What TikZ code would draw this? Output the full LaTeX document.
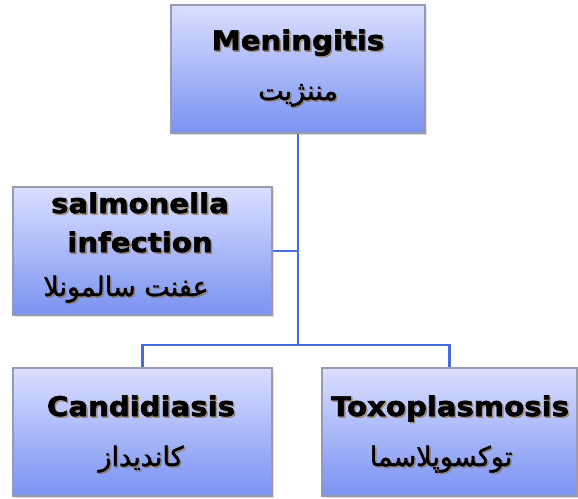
\documentclass[tikz,border=0pt]{standalone}
\usepackage{fontspec}
\usetikzlibrary{shadows,calc}
\TeXXeTstate=1
\newfontfamily\titlefont[FakeStretch=1.08,FakeBold=2.2]{DejaVu Sans Bold}
\newfontfamily\arabicfont[Script=Arabic,FakeBold=1.4]{DejaVu Sans}
\definecolor{boxtop}{RGB}{218,223,255}
\definecolor{boxbot}{RGB}{122,146,242}
\definecolor{boxline}{RGB}{150,155,175}
\definecolor{connc}{RGB}{70,108,222}
\definecolor{txtshadow}{RGB}{140,100,30}
\tikzset{
  box/.style={draw=boxline, line width=1.5pt, top color=boxtop, bottom color=boxbot,
    minimum height=128pt, inner sep=0pt,
    drop shadow={opacity=0.25, shadow xshift=1.5pt, shadow yshift=-1.5pt}},
  title/.style={font=\titlefont\fontsize{27}{32}\selectfont, anchor=base, inner sep=0pt},
  fa/.style={font=\arabicfont\fontsize{27}{32}\selectfont, anchor=base, inner sep=0pt},
  tsh/.style={text=txtshadow, text opacity=0.5, xshift=1.5pt, yshift=-1.5pt},
  conn/.style={draw=connc, line width=2.6pt}
}
\newcommand{\shtext}[4]{%
  \node[#1, tsh] (#2-sh) at #3 {#4};
  \node[#1] (#2) at #3 {#4};}
\begin{document}
\begin{tikzpicture}[x=1pt,y=-1pt]
\useasboundingbox[fill=white] (0,0) rectangle (578,498);
\node[box, minimum width=254pt] (m) at (298,69) {};
\node[box, minimum width=259pt] (s) at (142.5,251) {};
\node[box, minimum width=259pt] (c) at (142.5,432) {};
\node[box, minimum width=255pt] (t) at (449.5,432) {};
\coordinate (j) at (298,345);
\draw[conn] (m.south) -- (j);
\draw[conn] (s.east) -- (s.east -| m.south);
\draw[conn] (c.north) |- (j) -| (t.north);
\shtext{title}{m1}{(298,50)}{Meningitis}
\shtext{fa}{m2}{(298,100)}{\beginR مننژیت\endR}
\shtext{title}{s1}{(140,213)}{salmonella}
\shtext{title}{s2}{(140,252)}{infection}
\shtext{fa}{s3}{(126,296)}{\beginR عفنت سالمونلا\endR}
\shtext{title}{c1}{(141,416)}{Candidiasis}
\shtext{fa}{c2}{(141,466)}{\beginR کاندیداز\endR}
\shtext{title}{t1}{(450,416)}{Toxoplasmosis}
\shtext{fa}{t2}{(441,466)}{\beginR توکسوپلاسما\endR}
\end{tikzpicture}
\end{document}
